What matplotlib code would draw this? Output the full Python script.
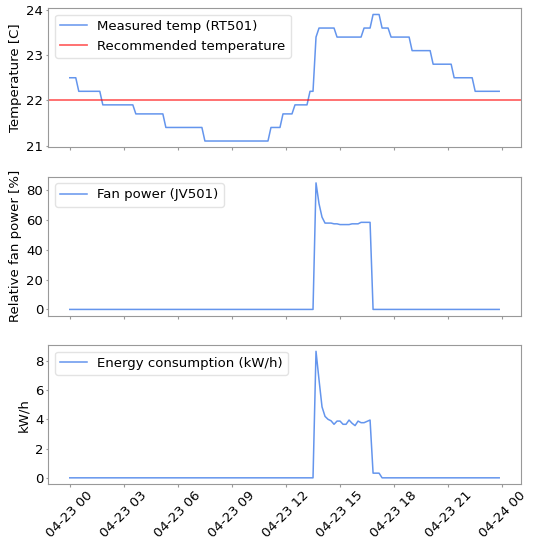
import numpy as np
import pandas as pd
import matplotlib
matplotlib.use("Agg")
import matplotlib.pyplot as plt
import matplotlib.dates as mdates

# 10-minute readings over one day
times = pd.date_range("2023-04-23 00:00", periods=144, freq="10min")

# Room temperature (RT501), stepwise sensor readings
temp_levels = [22.5, 22.2, 21.9, 21.7, 21.4, 21.1, 21.4, 21.7, 21.9, 22.2,
               23.4, 23.6, 23.4, 23.6, 23.9, 23.6, 23.4, 23.1, 22.8, 22.5, 22.2]
temp_counts = [3, 8, 11, 10, 13, 22, 4, 4, 5, 2,
               1, 6, 9, 3, 3, 3, 7, 7, 7, 7, 9]
temp = np.repeat(temp_levels, temp_counts)

recommended_temp = 22.0

# Fan power (JV501), percent
fan_on = [85, 71, 62, 58, 58, 58, 57.5, 57.5, 57, 57, 57, 57,
          57.5, 57.5, 57.5, 58.5, 58.5, 58.5, 58.5]
fan = np.concatenate([np.zeros(82), fan_on, np.zeros(43)])

# Energy consumption, kW/h
energy_on = [8.65, 6.7, 4.85, 4.2, 4.0, 3.9, 3.66, 3.88, 3.88, 3.66, 3.66,
             3.95, 3.73, 3.57, 3.88, 3.77, 3.77, 3.86, 3.95]
energy_tail = [0.32, 0.32, 0.32]
energy = np.concatenate([np.zeros(82), energy_on, energy_tail, np.zeros(40)])

line_color = "cornflowerblue"
tick_fs = 9.5
legend_fs = 9.5
label_fs = 9.5

fig, axes = plt.subplots(3, 1, figsize=(5.39, 5.44), dpi=100, sharex=True)
fig.subplots_adjust(left=0.0896, right=0.966, top=0.985, bottom=0.110, hspace=0.21)

ax1, ax2, ax3 = axes
ax1.plot(times, temp, color=line_color, lw=1.1, label="Measured temp (RT501)")
ax1.axhline(recommended_temp, color="red", alpha=0.6, lw=1.3, label="Recommended temperature")
ax1.set_ylabel("Temperature [C]", fontsize=label_fs, labelpad=3)
ax1.set_yticks([21, 22, 23, 24])

ax2.plot(times, fan, color=line_color, lw=1.1, label="Fan power (JV501)")
ax2.set_ylabel("Relative fan power [%]", fontsize=label_fs, labelpad=3)

ax3.plot(times, energy, color=line_color, lw=1.1, label="Energy consumption (kW/h)")
ax3.set_ylabel("kW/h", fontsize=label_fs, labelpad=3)

ax3.xaxis.set_major_locator(mdates.HourLocator(byhour=range(0, 24, 3)))
ax3.xaxis.set_major_formatter(mdates.DateFormatter("%m-%d %H"))
for lbl in ax3.get_xticklabels():
    lbl.set_rotation(45)
    lbl.set_horizontalalignment("center")

for ax in axes:
    ax.tick_params(labelsize=tick_fs, color="#999999", width=0.8, length=1.8, pad=1.8)
    for sp in ax.spines.values():
        sp.set_color("#999999")
        sp.set_linewidth(0.8)
    ax.legend(loc="upper left", fontsize=legend_fs, edgecolor="#dddddd")

fig.savefig("out.png", dpi=100)
